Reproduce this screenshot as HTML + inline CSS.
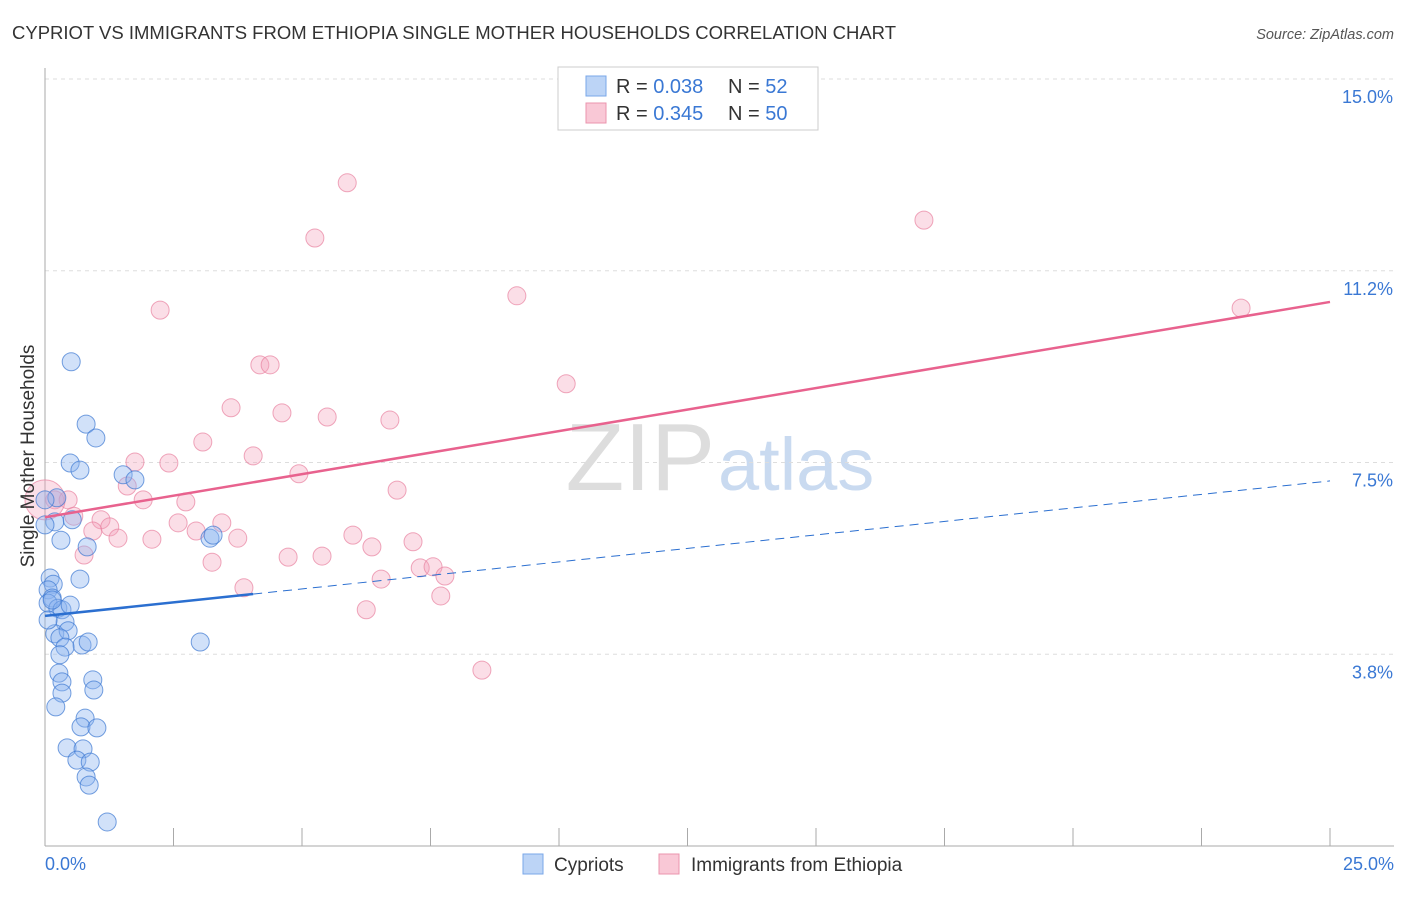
<!DOCTYPE html>
<html><head><meta charset="utf-8"><style>
body{margin:0;background:#fff;font-family:"Liberation Sans",sans-serif;}
svg text{font-family:"Liberation Sans",sans-serif;}
</style></head><body>
<svg id="chart" width="1406" height="892" viewBox="0 0 1406 892">
<text x="12" y="39" font-size="18.5" fill="#333">CYPRIOT VS IMMIGRANTS FROM ETHIOPIA SINGLE MOTHER HOUSEHOLDS CORRELATION CHART</text>
<text x="1394" y="39" font-size="14.5" fill="#555" font-style="italic" text-anchor="end">Source: ZipAtlas.com</text>
<text x="715" y="490" font-size="96" fill="#ddd" text-anchor="end" font-family="Liberation Serif">ZIP</text>
<text x="718" y="490" font-size="74" fill="#c9daf0">atlas</text>
<g id="grid"></g><g id="axes"></g><g id="marks"></g><g id="lines"></g>
<text x="34" y="456" font-size="19" fill="#333" text-anchor="middle" transform="rotate(-90 34 456)">Single Mother Households</text>
<text x="45" y="870" font-size="18" fill="#3a78d4">0.0%</text>
<text x="1394" y="870" font-size="18" fill="#3a78d4" text-anchor="end">25.0%</text>
<g>
<rect x="558" y="67" width="260" height="63" fill="#fff" stroke="#ccc"/>
<rect x="586" y="76" width="20" height="20" fill="#bcd4f6" stroke="#7aa7e8"/>
<rect x="586" y="103" width="20" height="20" fill="#f9c8d6" stroke="#eb94ae"/>
<text x="616" y="93" font-size="20" fill="#333">R = <tspan fill="#3a78d4">0.038</tspan><tspan x="728">N = </tspan><tspan fill="#3a78d4">52</tspan></text>
<text x="616" y="120" font-size="20" fill="#333">R = <tspan fill="#3a78d4">0.345</tspan><tspan x="728">N = </tspan><tspan fill="#3a78d4">50</tspan></text>
</g>
<g>
<rect x="523" y="854" width="20" height="20" fill="#bcd4f6" stroke="#7aa7e8"/>
<text x="554" y="871" font-size="19" fill="#333">Cypriots</text>
<text x="691" y="871" font-size="19" fill="#333">Immigrants from Ethiopia</text>
<rect x="659" y="854" width="20" height="20" fill="#f9c8d6" stroke="#eb94ae"/>
</g>
</svg>
<script>
const yTicks=[3.75,7.5,11.25,15];
const yTickLabels=["3.8%","7.5%","11.2%","15.0%"];
const xTickCount=11;
const cypX=[0.51,0.80,0.99,0.49,0.68,1.52,1.75,0.23,0.00,0.19,0.53,0.31,0.82,3.21,3.27,0.68,0.10,0.16,0.06,0.14,0.06,0.25,0.33,0.39,0.19,0.45,0.29,0.72,0.84,0.39,0.29,3.02,0.27,0.33,0.93,0.95,0.33,0.21,0.78,0.70,1.01,0.43,0.74,0.62,0.88,0.80,0.86,1.21,0.06,0.14,0.49,0.00];
const cypY=[9.47,8.25,7.98,7.49,7.35,7.26,7.16,6.81,6.77,6.34,6.38,5.98,5.85,6.02,6.08,5.22,5.24,5.12,5.01,4.85,4.75,4.65,4.62,4.38,4.15,4.21,4.07,3.93,3.99,3.89,3.74,3.99,3.38,3.21,3.25,3.05,2.99,2.72,2.50,2.33,2.31,1.92,1.90,1.68,1.64,1.35,1.19,0.47,4.42,4.81,4.71,6.28];
const ethX=[5.88,5.25,17.10,9.18,2.24,23.27,4.18,4.38,10.14,3.62,4.61,5.49,6.71,3.07,4.05,1.75,2.41,1.60,4.94,6.85,0.19,0.45,1.91,2.74,0.56,1.09,1.26,0.93,2.59,3.44,2.94,2.08,1.42,3.75,5.99,7.16,6.36,0.76,4.73,5.39,3.25,6.54,7.30,7.55,7.78,3.87,7.70,6.25,8.50,0.00];
const ethY=[12.97,11.89,12.24,10.76,10.48,10.52,9.41,9.41,9.04,8.57,8.47,8.39,8.33,7.90,7.63,7.51,7.49,7.04,7.28,6.96,6.77,6.77,6.77,6.73,6.45,6.38,6.24,6.16,6.32,6.32,6.16,6.00,6.02,6.02,6.08,5.95,5.85,5.69,5.65,5.67,5.55,5.22,5.44,5.46,5.28,5.05,4.89,4.62,3.44,6.77];
const ethR=[9,9,9,9,9,9,9,9,9,9,9,9,9,9,9,9,9,9,9,9,9,9,9,9,9,9,9,9,9,9,9,9,9,9,9,9,9,9,9,9,9,9,9,9,9,9,9,9,9,20];
const cypTrend=[4.50,7.14], cypSolidEnd=4.05;
const ethTrend=[6.43,10.64];
const X0=45,X1=1330,Y0=846,Y15=79;
const sx=v=>X0+(X1-X0)*v/25;
const sy=v=>Y0-(Y0-Y15)*v/15;
const NS="http://www.w3.org/2000/svg";
function mk(tag,attrs,parent){const e=document.createElementNS(NS,tag);for(const k in attrs)e.setAttribute(k,attrs[k]);parent.appendChild(e);return e;}
const grid=document.getElementById('grid'),axes=document.getElementById('axes'),marks=document.getElementById('marks'),lines=document.getElementById('lines');
yTicks.forEach((t,i)=>{
 const l=mk('line',{x1:X0,x2:1394,y1:sy(t),y2:sy(t),stroke:'#ddd','stroke-dasharray':'4,4'},grid);
 
 
 const tx=mk('text',{x:1393,y:sy(t)+24,'font-size':18,fill:'#3a78d4','text-anchor':'end'},grid);
 tx.textContent=yTickLabels[i];
 
 
});
let ax=mk('line',{x1:X0,x2:X0,y1:68,y2:Y0,stroke:'#aaa'},axes);


let bx=mk('line',{x1:X0,x2:1394,y1:Y0,y2:Y0,stroke:'#aaa'},axes);


for(let i=0;i<xTickCount;i++){
 const v=25*i/(xTickCount-1);
 const t=mk('line',{x1:sx(v),x2:sx(v),y1:828,y2:Y0,stroke:'#aaa'},axes);
 
 
}
ethX.forEach((x,i)=>{
 const c=mk('circle',{cx:sx(x),cy:sy(ethY[i]),r:ethR[i],fill:'rgba(244,160,185,0.35)',stroke:'rgba(232,130,160,0.7)','stroke-width':1},marks);
 
 
});
cypX.forEach((x,i)=>{
 const c=mk('circle',{cx:sx(x),cy:sy(cypY[i]),r:9,fill:'rgba(140,180,240,0.4)',stroke:'rgba(60,120,210,0.7)','stroke-width':1},marks);
 
 
});
const yAt=(tr,x)=>tr[0]+(tr[1]-tr[0])*x/25;
let pl=mk('line',{x1:sx(0),y1:sy(ethTrend[0]),x2:sx(25),y2:sy(ethTrend[1]),stroke:'#e8628e','stroke-width':2.5},lines);


let bl=mk('line',{x1:sx(0),y1:sy(cypTrend[0]),x2:sx(cypSolidEnd),y2:sy(yAt(cypTrend,cypSolidEnd)),stroke:'#2b6fd0','stroke-width':2.5},lines);


let bd=mk('line',{x1:sx(cypSolidEnd),y1:sy(yAt(cypTrend,cypSolidEnd)),x2:sx(25),y2:sy(cypTrend[1]),stroke:'#2b6fd0','stroke-width':1,'stroke-dasharray':'9,6'},lines);


</script>
</body></html>
